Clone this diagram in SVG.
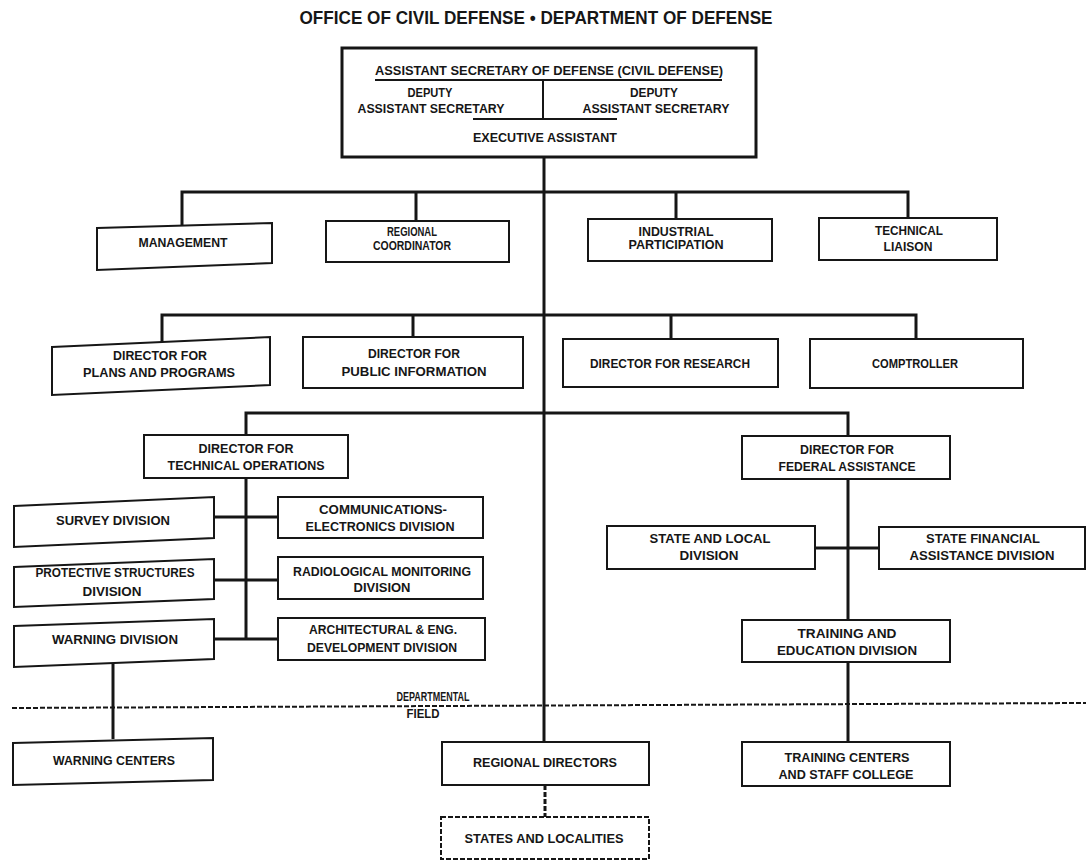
<svg xmlns="http://www.w3.org/2000/svg" width="1086" height="861" viewBox="0 0 1086 861">
<style>
.box{fill:#fff;stroke:#161616;stroke-width:2}
.dbox{fill:#fff;stroke:#161616;stroke-width:2;stroke-dasharray:5 2}
.t{font-family:"Liberation Sans",Arial,sans-serif;font-weight:bold;font-size:13.5px;text-anchor:middle;fill:#161616}
.title{font-family:"Liberation Sans",Arial,sans-serif;font-weight:bold;font-size:18px;text-anchor:middle;fill:#161616}
.c{fill:none;stroke:#161616;stroke-width:3}
.thin{fill:none;stroke:#161616;stroke-width:2}
.dash{fill:none;stroke:#161616;stroke-width:2;stroke-dasharray:5 2}
</style>
<rect width="1086" height="861" fill="#fff"/>
<text class="title" x="536" y="24" textLength="473" lengthAdjust="spacingAndGlyphs">OFFICE OF CIVIL DEFENSE • DEPARTMENT OF DEFENSE</text>

<g id="connectors">
  <path class="c" d="M544 157V742"/>
  <path class="c" d="M182 226V192H908V218M416 192V221M676 192V219"/>
  <path class="c" d="M162 342V315H916V339M413 315V337M671 315V339"/>
  <path class="c" d="M246 435V413H848V436"/>
  <path class="c" d="M246 478V639M214 517H278M214 580H278M214 639H278"/>
  <path class="c" d="M113 663V739"/>
  <path class="c" d="M848 479V620M815 548H879M848 662V742"/>
  <path class="dash" d="M12 708L1086 703"/>
  <path class="dash" d="M545 785V817" style="stroke-width:3"/>
</g>

<g id="asd">
  <rect x="342" y="48" width="414" height="109" fill="#fff" stroke="#161616" stroke-width="3"/>
  <text class="t" x="549" y="75" textLength="348" lengthAdjust="spacingAndGlyphs">ASSISTANT SECRETARY OF DEFENSE (CIVIL DEFENSE)</text>
  <path class="thin" d="M375 80H722M543 80V119M473 119H617"/>
  <text class="t" x="430" y="97" textLength="45" lengthAdjust="spacingAndGlyphs">DEPUTY</text>
  <text class="t" x="431" y="113" textLength="147" lengthAdjust="spacingAndGlyphs">ASSISTANT SECRETARY</text>
  <text class="t" x="654" y="97" textLength="48" lengthAdjust="spacingAndGlyphs">DEPUTY</text>
  <text class="t" x="656" y="113" textLength="147" lengthAdjust="spacingAndGlyphs">ASSISTANT SECRETARY</text>
  <text class="t" x="545" y="142" textLength="144" lengthAdjust="spacingAndGlyphs">EXECUTIVE ASSISTANT</text>
</g>

<g id="management">
  <polygon class="box" points="97,228 272,223 272,263 97,270"/>
  <text class="t" x="183" y="247" textLength="89" lengthAdjust="spacingAndGlyphs">MANAGEMENT</text>
</g>
<g id="regional-coordinator">
  <rect class="box" x="326" y="221" width="183" height="41"/>
  <text class="t" x="412" y="236" textLength="50" lengthAdjust="spacingAndGlyphs">REGIONAL</text>
  <text class="t" x="412" y="250" textLength="78" lengthAdjust="spacingAndGlyphs">COORDINATOR</text>
</g>
<g id="industrial-participation">
  <rect class="box" x="588" y="219" width="184" height="42"/>
  <text class="t" x="676" y="236" textLength="75" lengthAdjust="spacingAndGlyphs">INDUSTRIAL</text>
  <text class="t" x="676" y="249" textLength="95" lengthAdjust="spacingAndGlyphs">PARTICIPATION</text>
</g>
<g id="technical-liaison">
  <rect class="box" x="819" y="218" width="178" height="42"/>
  <text class="t" x="909" y="235" textLength="68" lengthAdjust="spacingAndGlyphs">TECHNICAL</text>
  <text class="t" x="908" y="251" textLength="49" lengthAdjust="spacingAndGlyphs">LIAISON</text>
</g>

<g id="plans-programs">
  <polygon class="box" points="52,347 270,337 270,385 52,395"/>
  <text class="t" x="160" y="360" textLength="94" lengthAdjust="spacingAndGlyphs">DIRECTOR FOR</text>
  <text class="t" x="159" y="377" textLength="152" lengthAdjust="spacingAndGlyphs">PLANS AND PROGRAMS</text>
</g>
<g id="public-information">
  <rect class="box" x="303" y="337" width="220" height="51"/>
  <text class="t" x="414" y="358" textLength="92" lengthAdjust="spacingAndGlyphs">DIRECTOR FOR</text>
  <text class="t" x="414" y="376" textLength="145" lengthAdjust="spacingAndGlyphs">PUBLIC INFORMATION</text>
</g>
<g id="research">
  <rect class="box" x="563" y="339" width="215" height="48"/>
  <text class="t" x="670" y="368" textLength="160" lengthAdjust="spacingAndGlyphs">DIRECTOR FOR RESEARCH</text>
</g>
<g id="comptroller">
  <rect class="box" x="810" y="339" width="213" height="49"/>
  <text class="t" x="915" y="368" textLength="86" lengthAdjust="spacingAndGlyphs">COMPTROLLER</text>
</g>

<g id="technical-operations">
  <rect class="box" x="144" y="435" width="204" height="43"/>
  <text class="t" x="246" y="453" textLength="95" lengthAdjust="spacingAndGlyphs">DIRECTOR FOR</text>
  <text class="t" x="246" y="470" textLength="157" lengthAdjust="spacingAndGlyphs">TECHNICAL OPERATIONS</text>
</g>
<g id="survey">
  <polygon class="box" points="14,506 214,497 214,538 14,547"/>
  <text class="t" x="113" y="525" textLength="114" lengthAdjust="spacingAndGlyphs">SURVEY DIVISION</text>
</g>
<g id="communications">
  <rect class="box" x="278" y="497" width="205" height="41"/>
  <text class="t" x="383" y="514" textLength="128" lengthAdjust="spacingAndGlyphs">COMMUNICATIONS-</text>
  <text class="t" x="380" y="531" textLength="149" lengthAdjust="spacingAndGlyphs">ELECTRONICS DIVISION</text>
</g>
<g id="protective">
  <polygon class="box" points="14,567 214,559 214,599 14,607"/>
  <text class="t" x="115" y="577" textLength="159" lengthAdjust="spacingAndGlyphs">PROTECTIVE STRUCTURES</text>
  <text class="t" x="112" y="596" textLength="59" lengthAdjust="spacingAndGlyphs">DIVISION</text>
</g>
<g id="radiological">
  <rect class="box" x="278" y="557" width="205" height="42"/>
  <text class="t" x="382" y="576" textLength="178" lengthAdjust="spacingAndGlyphs">RADIOLOGICAL MONITORING</text>
  <text class="t" x="382" y="592" textLength="57" lengthAdjust="spacingAndGlyphs">DIVISION</text>
</g>
<g id="warning-division">
  <polygon class="box" points="14,626 214,619 214,659 14,667"/>
  <text class="t" x="115" y="644" textLength="126" lengthAdjust="spacingAndGlyphs">WARNING DIVISION</text>
</g>
<g id="architectural">
  <rect class="box" x="278" y="618" width="207" height="42"/>
  <text class="t" x="383" y="634" textLength="148" lengthAdjust="spacingAndGlyphs">ARCHITECTURAL &amp; ENG.</text>
  <text class="t" x="382" y="652" textLength="150" lengthAdjust="spacingAndGlyphs">DEVELOPMENT DIVISION</text>
</g>

<g id="federal-assistance">
  <rect class="box" x="742" y="436" width="208" height="43"/>
  <text class="t" x="847" y="454" textLength="94" lengthAdjust="spacingAndGlyphs">DIRECTOR FOR</text>
  <text class="t" x="847" y="471" textLength="137" lengthAdjust="spacingAndGlyphs">FEDERAL ASSISTANCE</text>
</g>
<g id="state-local">
  <rect class="box" x="607" y="526" width="208" height="43"/>
  <text class="t" x="710" y="543" textLength="121" lengthAdjust="spacingAndGlyphs">STATE AND LOCAL</text>
  <text class="t" x="709" y="560" textLength="59" lengthAdjust="spacingAndGlyphs">DIVISION</text>
</g>
<g id="state-financial">
  <rect class="box" x="879" y="527" width="206" height="42"/>
  <text class="t" x="983" y="543" textLength="114" lengthAdjust="spacingAndGlyphs">STATE FINANCIAL</text>
  <text class="t" x="982" y="560" textLength="145" lengthAdjust="spacingAndGlyphs">ASSISTANCE DIVISION</text>
</g>
<g id="training-education">
  <rect class="box" x="742" y="620" width="208" height="42"/>
  <text class="t" x="847" y="638" textLength="99" lengthAdjust="spacingAndGlyphs">TRAINING AND</text>
  <text class="t" x="847" y="655" textLength="140" lengthAdjust="spacingAndGlyphs">EDUCATION DIVISION</text>
</g>

<g id="boundary-labels">
  <text class="t" x="433" y="701" textLength="73" lengthAdjust="spacingAndGlyphs">DEPARTMENTAL</text>
  <text class="t" x="423" y="718" textLength="33" lengthAdjust="spacingAndGlyphs">FIELD</text>
</g>

<g id="warning-centers">
  <polygon class="box" points="13,743 213,738 213,780 13,785"/>
  <text class="t" x="114" y="765" textLength="122" lengthAdjust="spacingAndGlyphs">WARNING CENTERS</text>
</g>
<g id="regional-directors">
  <rect class="box" x="442" y="742" width="207" height="43"/>
  <text class="t" x="545" y="767" textLength="144" lengthAdjust="spacingAndGlyphs">REGIONAL DIRECTORS</text>
</g>
<g id="states-localities">
  <rect class="dbox" x="441" y="817" width="208" height="42"/>
  <text class="t" x="544" y="843" textLength="159" lengthAdjust="spacingAndGlyphs">STATES AND LOCALITIES</text>
</g>
<g id="training-centers">
  <rect class="box" x="742" y="742" width="208" height="44"/>
  <text class="t" x="847" y="762" textLength="125" lengthAdjust="spacingAndGlyphs">TRAINING CENTERS</text>
  <text class="t" x="846" y="779" textLength="135" lengthAdjust="spacingAndGlyphs">AND STAFF COLLEGE</text>
</g>
</svg>
